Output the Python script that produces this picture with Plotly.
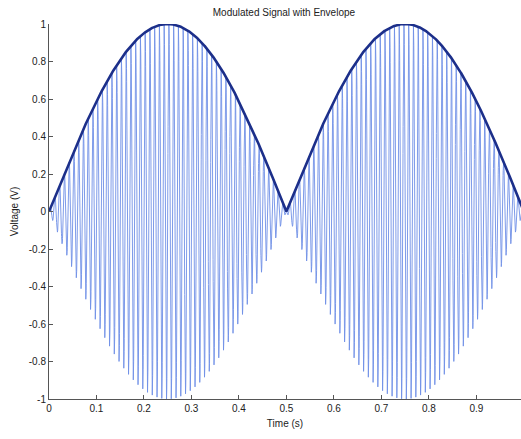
import numpy as np
import plotly.graph_objects as go

# Signal parameters
sample_rate_hz = 4000
duration_s = 1.0
carrier_hz = 100
message_hz = 1

x_ticks = [0, 0.1, 0.2, 0.3, 0.4, 0.5, 0.6, 0.7, 0.8, 0.9]
y_ticks = [-1, -0.8, -0.6, -0.4, -0.2, 0, 0.2, 0.4, 0.6, 0.8, 1]

t = np.arange(0, duration_s, 1 / sample_rate_hz)
message = np.sin(2 * np.pi * message_hz * t)
modulated = message * np.sin(2 * np.pi * carrier_hz * t)
envelope = np.abs(message)

fig = go.Figure()
fig.add_trace(go.Scatter(x=t, y=modulated, mode="lines",
                         line=dict(color="#6f90e6", width=0.9), showlegend=False))
fig.add_trace(go.Scatter(x=t, y=envelope, mode="lines",
                         line=dict(color="#1c2f8a", width=2.6), showlegend=False))

font = dict(family="Liberation Sans, Arial, sans-serif", size=10, color="#222222")
fig.update_layout(
    width=521, height=439,
    margin=dict(l=49, r=0, t=24, b=40),
    paper_bgcolor="white", plot_bgcolor="white",
    font=font,
    title=dict(text="Modulated Signal with Envelope", x=0.545, xanchor="center",
               y=0.98, yanchor="top", font=dict(size=10, color="#222222")),
)
fig.update_xaxes(range=[0, 0.994], tickvals=x_ticks,
                 ticktext=[f"{v:g}" for v in x_ticks],
                 showgrid=False, zeroline=False, showline=True, linecolor="#555555",
                 linewidth=1, ticks="inside", ticklen=4, tickcolor="#555555",
                 title=dict(text="Time (s)", standoff=6, font=dict(size=10)),
                 mirror=False)
fig.update_yaxes(range=[-1, 1], tickvals=y_ticks,
                 ticktext=[f"{v:g}" for v in y_ticks],
                 showgrid=False, zeroline=False, showline=True, linecolor="#555555",
                 linewidth=1, ticks="inside", ticklen=4, tickcolor="#555555",
                 title=dict(text="Voltage (V)", standoff=8, font=dict(size=10)),
                 mirror=False)

fig.write_html("out.html")
